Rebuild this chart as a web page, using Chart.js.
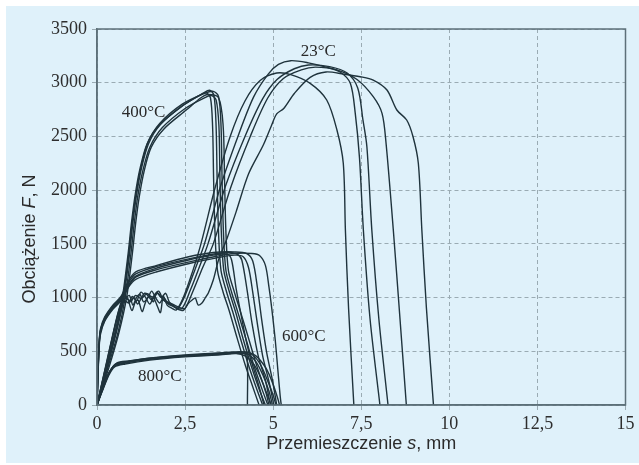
<!DOCTYPE html>
<html>
<head>
<meta charset="utf-8">
<script src="https://cdn.jsdelivr.net/npm/chart.js@4/dist/chart.umd.min.js"></script>
<style>
  html, body { margin: 0; padding: 0; background: #fff; }
  #wrap { position: absolute; left: 6px; top: 6px; width: 633px; height: 457px; background: #dff1fa; }
  canvas { display: block; }
</style>
</head>
<body>
<div id="wrap"><canvas id="c" width="633" height="457"></canvas></div>
<script>
// Przemieszczenie s [mm], Obciążenie F [N]
const xTicks = [0, 2.5, 5, 7.5, 10, 12.5, 15];
const yTicks = [0, 500, 1000, 1500, 2000, 2500, 3000, 3500];

// 23°C
const t23_1 = [[0,0],[0.3,420],[0.55,780],[0.72,960],[0.85,1000],[0.99,880],[1.09,960],[1.17,975],[1.28,870],[1.37,950],[1.46,1010],[1.6,1000],[1.7,930],[1.8,860],[1.88,1010],[1.99,930],[2.13,900],[2.25,885],[2.45,1000],[2.7,1230],[2.95,1500],[3.35,2020],[3.78,2500],[4.2,2830],[4.63,3020],[5.1,3090],[5.5,3075],[6.05,2994],[6.52,2839],[6.81,2560],[6.99,2250],[7.05,1629],[7.14,900],[7.29,0]];
const t23_2 = [[0,0],[0.3,430],[0.55,790],[0.7,960],[0.8,1010],[0.95,960],[1.05,1000],[1.15,940],[1.25,990],[1.35,1040],[1.5,1020],[1.6,960],[1.7,1050],[1.82,1000],[1.95,1040],[2.05,960],[2.2,910],[2.3,900],[2.5,1020],[2.78,1260],[3.05,1500],[3.5,2030],[4.0,2500],[4.45,2870],[4.86,3080],[5.15,3170],[5.5,3205],[6.0,3185],[6.5,3145],[6.9,3100],[7.19,2994],[7.33,2715],[7.45,2300],[7.56,1629],[7.75,800],[8.03,0]];
const t23_3 = [[0,0],[0.32,410],[0.58,770],[0.72,950],[0.8,990],[0.92,1020],[1.02,930],[1.12,1000],[1.22,1030],[1.32,960],[1.45,1000],[1.55,1060],[1.68,990],[1.78,950],[1.9,1000],[2.02,940],[2.15,920],[2.4,895],[2.65,1070],[2.9,1280],[3.15,1500],[3.65,2040],[4.2,2500],[4.7,2850],[5.11,3030],[5.6,3130],[6.0,3165],[6.6,3150],[7.1,3090],[7.4,2950],[7.55,2650],[7.66,2404],[7.8,1629],[8.0,800],[8.26,0]];
const t23_4 = [[0,0],[0.3,440],[0.55,800],[0.68,950],[0.75,980],[0.9,950],[1.0,1010],[1.12,970],[1.25,1050],[1.38,1000],[1.5,940],[1.62,1020],[1.75,1060],[1.88,980],[2.0,960],[2.2,930],[2.35,905],[2.5,900],[2.75,1080],[3.0,1280],[3.3,1500],[3.8,2030],[4.35,2500],[4.85,2860],[5.29,3040],[5.8,3120],[6.2,3145],[6.8,3120],[7.38,3030],[7.84,2870],[8.09,2715],[8.2,2450],[8.41,1629],[8.6,800],[8.78,0]];
const t23_5 = [[0,0],[0.33,400],[0.6,770],[0.74,950],[0.8,1000],[0.95,970],[1.1,1020],[1.25,990],[1.4,1030],[1.55,980],[1.72,1040],[1.85,990],[2.0,950],[2.15,930],[2.3,890],[2.46,884],[2.6,949],[2.7,977],[2.79,996],[2.87,931],[2.98,949],[3.07,996],[3.16,1043],[3.3,1163],[3.45,1350],[3.7,1560],[3.95,1800],[4.3,2150],[4.72,2420],[4.95,2600],[5.1,2710],[5.3,2760],[5.6,2900],[6.05,3050],[6.5,3100],[7.0,3080],[7.47,3056],[7.84,3025],[8.23,2932],[8.51,2746],[8.79,2653],[8.97,2497],[9.12,2250],[9.22,1629],[9.35,900],[9.55,0]];

// 400°C
const t400_1 = [[0,0],[0.3,390],[0.55,720],[0.72,1000],[0.88,1400],[0.98,1700],[1.08,1950],[1.22,2200],[1.42,2430],[1.75,2600],[2.4,2780],[2.9,2880],[3.1,2905],[3.22,2860],[3.28,2600],[3.31,2100],[3.35,1600],[3.42,1250],[3.58,1050],[3.75,880],[3.98,620],[4.2,380],[4.42,170],[4.6,0]];
const t400_2 = [[0,0],[0.3,370],[0.56,690],[0.76,1000],[0.92,1400],[1.02,1700],[1.12,1950],[1.26,2200],[1.46,2430],[1.8,2610],[2.45,2790],[3.0,2900],[3.2,2930],[3.32,2880],[3.38,2600],[3.41,2100],[3.45,1600],[3.52,1250],[3.68,1050],[3.85,870],[4.08,610],[4.3,370],[4.52,160],[4.7,0]];
const t400_3 = [[0,0],[0.32,360],[0.6,680],[0.8,1000],[0.96,1400],[1.06,1700],[1.16,1950],[1.3,2180],[1.5,2400],[1.85,2580],[2.5,2760],[3.05,2860],[3.25,2880],[3.38,2840],[3.46,2600],[3.49,2100],[3.53,1600],[3.6,1250],[3.76,1050],[3.93,870],[4.16,600],[4.38,360],[4.6,150],[4.78,0]];
const t400_4 = [[0,0],[0.3,380],[0.55,700],[0.74,1000],[0.9,1400],[1.0,1700],[1.1,1950],[1.24,2200],[1.44,2440],[1.78,2620],[2.42,2800],[3.05,2900],[3.3,2920],[3.45,2870],[3.52,2600],[3.55,2100],[3.59,1600],[3.66,1250],[3.82,1050],[4.0,860],[4.24,600],[4.46,360],[4.68,150],[4.85,0]];
const t400_5 = [[0,0],[0.34,350],[0.62,670],[0.84,1000],[1.0,1400],[1.1,1700],[1.2,1940],[1.34,2180],[1.54,2400],[1.9,2570],[2.55,2750],[2.95,2860],[3.15,2890],[3.45,2860],[3.58,2600],[3.62,2100],[3.66,1600],[3.73,1250],[3.9,1050],[4.08,860],[4.32,600],[4.55,350],[4.78,140],[4.95,0]];

// 600°C
const t600_1 = [[0,0],[0.03,300],[0.06,550],[0.1,680],[0.22,790],[0.45,900],[0.68,980],[0.9,1110],[1.1,1190],[1.7,1260],[2.65,1335],[3.4,1385],[3.9,1410],[4.4,1410],[4.62,1390],[4.78,1300],[4.88,1100],[4.96,900],[5.06,600],[5.14,300],[5.2,80],[5.23,0]];
const t600_2 = [[0,0],[0.03,320],[0.06,570],[0.1,700],[0.22,810],[0.45,920],[0.68,1000],[0.9,1140],[1.1,1220],[1.7,1290],[2.6,1360],[3.4,1410],[3.8,1420],[4.0,1400],[4.11,1350],[4.26,1070],[4.4,760],[4.58,450],[4.78,230],[4.92,0]];
const t600_3 = [[0,0],[0.03,280],[0.06,530],[0.1,660],[0.22,780],[0.45,890],[0.68,970],[0.9,1100],[1.1,1170],[1.7,1240],[2.65,1320],[3.4,1370],[3.9,1395],[4.15,1380],[4.3,1280],[4.42,1050],[4.55,760],[4.7,460],[4.88,220],[5.02,0]];
const t600_4 = [[0,0],[0.03,310],[0.06,560],[0.1,690],[0.22,800],[0.45,910],[0.68,990],[0.9,1120],[1.1,1200],[1.7,1275],[2.6,1350],[3.3,1395],[3.7,1405],[3.82,1350],[3.95,1080],[4.1,820],[4.22,620],[4.35,440],[4.52,260],[4.66,100],[4.74,0]];
const t600_5 = [[0,0],[0.03,330],[0.06,580],[0.1,710],[0.22,820],[0.45,930],[0.68,1010],[0.9,1160],[1.1,1240],[1.7,1300],[2.6,1380],[3.3,1420],[3.9,1425],[4.25,1410],[4.42,1340],[4.55,1100],[4.68,780],[4.82,480],[4.98,230],[5.1,0]];

// 800°C
const t800_1 = [[0,0],[0.15,140],[0.35,300],[0.52,375],[0.8,398],[1.2,415],[2.0,445],[3.0,468],[3.8,480],[4.15,478],[4.26,460],[4.27,0]];
const t800_2 = [[0,0],[0.12,130],[0.32,290],[0.5,365],[0.8,390],[1.5,425],[2.5,455],[3.5,475],[4.0,486],[4.3,470],[4.52,400],[4.72,270],[4.88,130],[4.98,0]];
const t800_3 = [[0,0],[0.16,150],[0.36,310],[0.55,385],[0.85,405],[1.5,435],[2.5,462],[3.5,482],[4.1,492],[4.4,470],[4.65,370],[4.85,220],[5.0,90],[5.08,0]];
const t800_4 = [[0,0],[0.14,120],[0.34,280],[0.5,355],[0.8,382],[1.5,418],[2.5,448],[3.5,468],[3.95,478],[4.2,458],[4.45,380],[4.65,250],[4.8,110],[4.88,0]];
const t800_5 = [[0,0],[0.18,160],[0.38,320],[0.56,390],[0.9,410],[1.6,440],[2.6,468],[3.6,488],[4.2,495],[4.5,460],[4.8,340],[5.0,190],[5.13,60],[5.18,0]];

const curves = [t23_1, t23_2, t23_3, t23_4, t23_5,
                t400_1, t400_2, t400_3, t400_4, t400_5,
                t600_1, t600_2, t600_3, t600_4, t600_5,
                t800_1, t800_2, t800_3, t800_4, t800_5];

// opisy krzywych (środek tekstu w jednostkach wykresu)
const tempLabels = ['23°C', '400°C', '600°C', '800°C'];
const tempLabelX = [6.28, 1.32, 5.87, 1.78];
const tempLabelY = [3289, 2718, 633, 265];

const LINE = '#1f333c';
const SERIF = '"Liberation Serif", "DejaVu Serif", serif';
const SANS = '"Liberation Sans", Arial, sans-serif';

// tekst złożony z kawałków (część kursywą), wyśrodkowany w (x, y)
function drawParts(ctx, parts, x, y, size) {
  let total = 0;
  const widths = parts.map(p => {
    ctx.font = `${p.italic ? 'italic ' : ''}${size}px ${SANS}`;
    const w = ctx.measureText(p.text).width;
    total += w;
    return w;
  });
  let cx = x - total / 2;
  parts.forEach((p, i) => {
    ctx.font = `${p.italic ? 'italic ' : ''}${size}px ${SANS}`;
    ctx.fillText(p.text, cx, y);
    cx += widths[i];
  });
}

const decorPlugin = {
  id: 'decor',
  afterDraw(chart) {
    const { ctx, chartArea: a, scales: { x, y } } = chart;
    ctx.save();
    // ramka
    ctx.strokeStyle = '#5d7079';
    ctx.lineWidth = 1.5;
    ctx.strokeRect(a.left, a.top, a.right - a.left, a.bottom - a.top);

    // opisy temperatur
    ctx.fillStyle = '#2a2a2a';
    ctx.font = `17px ${SERIF}`;
    ctx.textAlign = 'center';
    ctx.textBaseline = 'middle';
    tempLabels.forEach((t, i) => {
      ctx.fillText(t, x.getPixelForValue(tempLabelX[i]), y.getPixelForValue(tempLabelY[i]));
    });

    // tytuły osi
    ctx.textAlign = 'left';
    ctx.textBaseline = 'alphabetic';
    ctx.fillStyle = '#2b2b2b';
    drawParts(ctx, [{ text: 'Przemieszczenie ' }, { text: 's', italic: true }, { text: ', mm' }],
      (a.left + a.right) / 2, 443, 18);
    ctx.translate(29, 233);
    ctx.rotate(-Math.PI / 2);
    drawParts(ctx, [{ text: 'Obciążenie ' }, { text: 'F', italic: true }, { text: ', N' }], 0, 0, 18);
    ctx.restore();
  }
};

new Chart(document.getElementById('c').getContext('2d'), {
  type: 'line',
  data: {
    datasets: curves.map(c => ({
      data: c.map(([sx, f]) => ({ x: sx, y: f })),
      borderColor: LINE,
      borderWidth: 1.4,
      pointRadius: 0,
      tension: 0.3,
      fill: false,
    })),
  },
  options: {
    responsive: false,
    animation: false,
    layout: { padding: { top: 23, right: 13.5, left: 0, bottom: 0 } },
    plugins: { legend: { display: false }, tooltip: { enabled: false } },
    scales: {
      x: {
        type: 'linear', min: 0, max: 15,
        afterBuildTicks: s => { s.ticks = xTicks.map(v => ({ value: v })); },
        afterFit: s => { s.height = 58; },
        ticks: {
          color: '#2e2e2e', padding: 3,
          font: { family: SERIF, size: 18 },
          callback: v => String(v).replace('.', ','),
        },
        grid: { color: '#9aabb3', lineWidth: 1, tickLength: 5 },
        border: { display: true, color: '#5d7079', width: 1.5, dash: [4, 3] },
      },
      y: {
        min: 0, max: 3500,
        afterBuildTicks: s => { s.ticks = yTicks.map(v => ({ value: v })); },
        afterFit: s => { s.width = 91; },
        ticks: {
          color: '#2e2e2e', padding: 5,
          font: { family: SERIF, size: 18 },
          callback: v => String(v),
        },
        grid: { color: '#9aabb3', lineWidth: 1, tickLength: 5 },
        border: { display: true, color: '#5d7079', width: 1.5, dash: [4, 3] },
      },
    },
  },
  plugins: [decorPlugin],
});
</script>
</body>
</html>
